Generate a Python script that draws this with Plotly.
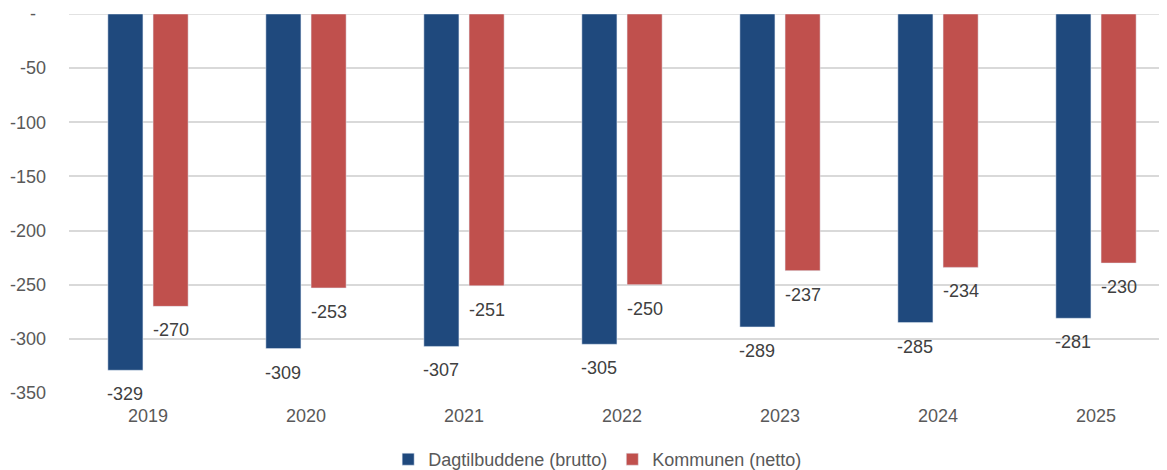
import plotly.graph_objects as go

years = ["2019", "2020", "2021", "2022", "2023", "2024", "2025"]
brutto = [-329, -309, -307, -305, -289, -285, -281]
netto = [-270, -253, -251, -250, -237, -234, -230]
y_ticks = [0, -50, -100, -150, -200, -250, -300, -350]
y_ticktext = ["-\u00a0\u00a0", "-50", "-100", "-150", "-200", "-250", "-300", "-350"]

FONT = "Liberation Sans, Arial, sans-serif"
GRID = "#d9d9d9"
BAR_W = 0.222
OFFSETS = {"brutto": -0.254, "netto": 0.032}

fig = go.Figure()
fig.add_trace(go.Bar(
    x=years, y=brutto, name="Dagtilbuddene (brutto)",
    marker=dict(color="#1f497d"),
    width=BAR_W, offset=OFFSETS["brutto"],
))
fig.add_trace(go.Bar(
    x=years, y=netto, name="Kommunen (netto)",
    marker=dict(color="#c0504d"),
    width=BAR_W, offset=OFFSETS["netto"],
))

# value labels sit a little below the end of each bar
for series, key in ((brutto, "brutto"), (netto, "netto")):
    for i, v in enumerate(series):
        fig.add_annotation(
            x=i + OFFSETS[key] + BAR_W / 2, y=v, text=str(v),
            showarrow=False, yanchor="middle", yshift=-24,
            font=dict(size=18, color="#404040", family=FONT),
        )

# gridline at zero sits on the plot edge, plotly skips it there
fig.add_shape(type="line", xref="paper", x0=0, x1=1, y0=0, y1=0,
              line=dict(color=GRID, width=1.5), layer="below")

# page body has an 8px margin, so the margins are shifted to compensate
fig.update_layout(
    width=1167, height=470,
    margin=dict(l=61, r=0, t=6, b=83),
    paper_bgcolor="white", plot_bgcolor="white",
    font=dict(family=FONT, size=18, color="#595959"),
    barmode="group",
    legend=dict(
        orientation="h", x=0.478, xanchor="center", y=-0.176, yanchor="middle",
        font=dict(size=18, color="#595959"),
        traceorder="normal",
    ),
)
fig.update_xaxes(
    range=[-0.5, 6.5], showgrid=False, zeroline=False, showline=False,
    ticks="", tickfont=dict(size=18, color="#595959"), automargin=False,
    ticklabelstandoff=10,
)
fig.update_yaxes(
    range=[-350, 0], tickvals=y_ticks, ticktext=y_ticktext,
    showgrid=True, gridcolor=GRID, gridwidth=1.5,
    zeroline=False, showline=False, ticks="", ticklabelstandoff=22,
    tickfont=dict(size=18, color="#595959"), automargin=False,
    ticklabeloverflow="allow",
)

fig.write_html("out.html")
